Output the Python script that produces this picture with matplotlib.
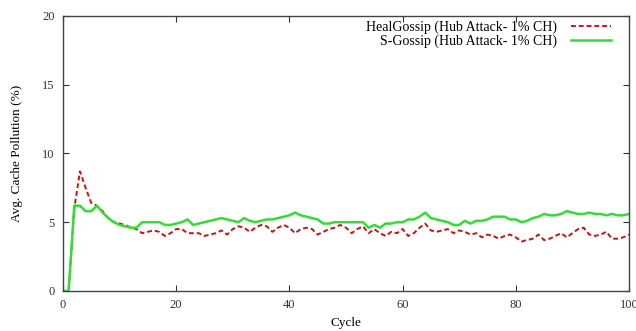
import matplotlib.pyplot as plt
import numpy as np

cycles = np.arange(0, 101)

heal_gossip = [
    0, 0, 6.0, 8.7, 7.5, 6.4, 6.2, 5.8, 5.3, 5.0,
    4.9, 4.8, 4.6, 4.5, 4.2, 4.3, 4.4, 4.3, 4.0, 4.2,
    4.5, 4.5, 4.2, 4.2, 4.2, 4.0, 4.1, 4.2, 4.4, 4.1,
    4.5, 4.7, 4.6, 4.3, 4.6, 4.8, 4.7, 4.3, 4.6, 4.8,
    4.6, 4.2, 4.5, 4.6, 4.5, 4.1, 4.3, 4.5, 4.6, 4.8,
    4.6, 4.2, 4.5, 4.7, 4.2, 4.5, 4.2, 4.0, 4.3, 4.2,
    4.5, 4.0, 4.2, 4.6, 4.9, 4.4, 4.3, 4.4, 4.5, 4.2,
    4.4, 4.3, 4.1, 4.2, 3.9, 4.1, 4.0, 3.8, 4.0, 4.1,
    3.9, 3.6, 3.7, 3.8, 4.1, 3.7, 3.8, 4.0, 4.2, 3.9,
    4.2, 4.5, 4.6, 4.1, 4.0, 4.1, 4.3, 3.8, 3.8, 3.9,
    4.1,
]

s_gossip = [
    0, 0, 6.2, 6.2, 5.8, 5.8, 6.2, 5.7, 5.3, 5.0,
    4.8, 4.7, 4.6, 4.6, 5.0, 5.0, 5.0, 5.0, 4.8, 4.8,
    4.9, 5.0, 5.2, 4.8, 4.9, 5.0, 5.1, 5.2, 5.3, 5.2,
    5.1, 5.0, 5.3, 5.1, 5.0, 5.1, 5.2, 5.2, 5.3, 5.4,
    5.5, 5.7, 5.5, 5.4, 5.3, 5.2, 4.9, 4.9, 5.0, 5.0,
    5.0, 5.0, 5.0, 5.0, 4.6, 4.8, 4.6, 4.9, 4.9, 5.0,
    5.0, 5.2, 5.2, 5.4, 5.7, 5.3, 5.2, 5.1, 5.0, 4.8,
    4.8, 5.1, 4.9, 5.1, 5.1, 5.2, 5.4, 5.4, 5.4, 5.2,
    5.2, 5.0, 5.1, 5.3, 5.4, 5.6, 5.5, 5.5, 5.6, 5.8,
    5.7, 5.6, 5.6, 5.7, 5.6, 5.6, 5.5, 5.6, 5.5, 5.5,
    5.6,
]

labels = ['HealGossip (Hub Attack- 1% CH)', 'S-Gossip (Hub Attack- 1% CH)']
x_ticks = [0, 20, 40, 60, 80, 100]
y_ticks = [0, 5, 10, 15, 20]

plt.rcParams['font.family'] = ['Liberation Serif', 'DejaVu Serif']

fig = plt.figure(figsize=(6.36, 3.31), dpi=100)
ax = fig.add_axes([0.099, 0.121, 0.890, 0.831])

ax.plot(cycles, heal_gossip, color='#d01010', linestyle=(0, (2.5, 1.5)),
        linewidth=1.4, label=labels[0])
ax.plot(cycles, s_gossip, color='#33dd33', linewidth=1.8, label=labels[1])

ax.set_xlim(0, 100)
ax.set_ylim(0, 20)
ax.set_xticks(x_ticks)
ax.set_yticks(y_ticks)
ax.tick_params(direction='in', top=True, right=True, length=4,
               labelsize=9, colors='#333333', pad=6)
for sp in ax.spines.values():
    sp.set_color('#444444')
    sp.set_linewidth(1.0)

ax.set_xlabel('Cycle', fontsize=9.5, labelpad=4)
ax.set_ylabel('Avg. Cache Pollution (%)', fontsize=9.5, labelpad=14)

ax.legend(loc='upper right', bbox_to_anchor=(0.99, 1.03), frameon=False,
          markerfirst=False, fontsize=10, handlelength=2.9,
          handletextpad=1.0, labelspacing=0.1)

plt.savefig('out.png', dpi=100)
